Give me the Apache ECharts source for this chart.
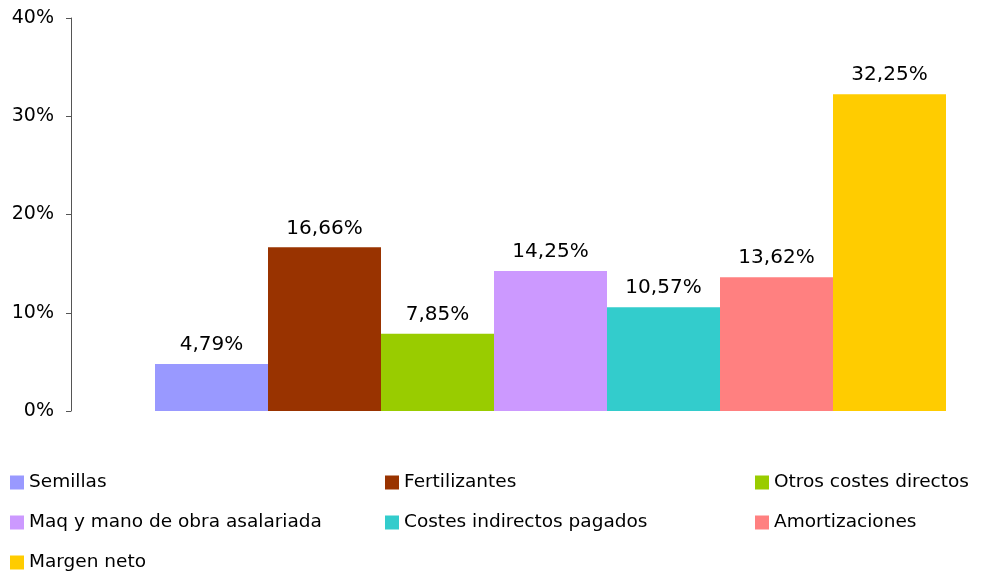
<!DOCTYPE html>
<html>
<head>
<meta charset="utf-8">
<script src="https://cdn.jsdelivr.net/npm/echarts@6/dist/echarts.min.js"></script>
<style>html,body{margin:0;padding:0;background:#fff}#c{width:989px;height:575px}</style>
</head>
<body>
<div id="c"></div>
<script>
const seriesNames = ["Semillas","Fertilizantes","Otros costes directos","Maq y mano de obra asalariada","Costes indirectos pagados","Amortizaciones","Margen neto"];
const seriesValues = [4.79,16.66,7.85,14.25,10.57,13.62,32.25];
const seriesColors = ["#9999FF","#993300","#99CC00","#CC99FF","#33CCCC","#FF8080","#FFCC00"];
const yTicks = [0,10,20,30,40];
const legendColumns = [
  ["Semillas","Maq y mano de obra asalariada","Margen neto"],
  ["Fertilizantes","Costes indirectos pagados"],
  ["Otros costes directos","Amortizaciones"]
];
const FONT = "DejaVu Sans";
const chart = echarts.init(document.getElementById('c'));
const series = seriesNames.map((n,i)=>{
  const d = seriesNames.map((_,j)=> j===i ? seriesValues[i] : '-');
  return {
    name:n, type:'bar', stack:'all', barWidth:'100%', data:d,
    itemStyle:{color:seriesColors[i]},
    label:{show:true, position:'top', distance:9, color:'#000', fontFamily:FONT, fontSize:20,
      formatter:p=>p.value.toFixed(2).replace('.',',')+'%'}
  };
});
const legendLefts = [10,385,755];
chart.setOption({
  animation:false,
  backgroundColor:'#fff',
  grid:{left:155,right:43,top:18,bottom:164},
  xAxis:{type:'category', data:seriesNames, show:false},
  yAxis:{type:'value', min:yTicks[0], max:yTicks[yTicks.length-1], interval:10, offset:84,
    axisLine:{show:true, lineStyle:{color:'#555', width:1}},
    axisTick:{show:true, length:5, lineStyle:{color:'#555'}},
    splitLine:{show:false},
    axisLabel:{margin:17, color:'#000', fontFamily:FONT, fontSize:19, padding:[3,0,0,0], formatter:v=>v+'%'}
  },
  legend: legendColumns.map((col,k)=>({
    orient:'vertical', left:legendLefts[k], top:472, height:110, padding:0,
    itemWidth:14, itemHeight:14, itemGap:19,
    icon:'rect', data:col,
    textStyle:{fontFamily:FONT, fontSize:18.5, color:'#000', lineHeight:21}
  })),
  series
});
</script>
</body>
</html>
